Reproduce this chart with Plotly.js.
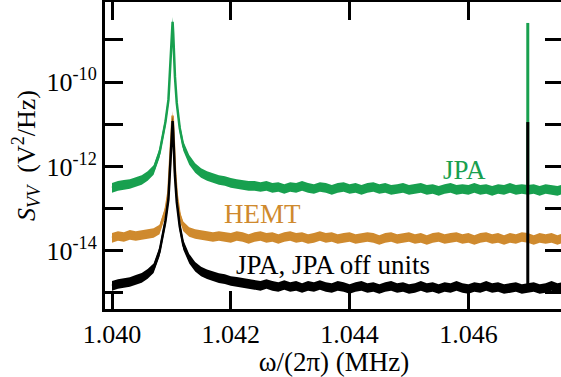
<!DOCTYPE html>
<html>
<head>
<meta charset="utf-8">
<script src="https://cdn.plot.ly/plotly-3.0.1.min.js"></script>
<style>
html,body{margin:0;padding:0;overflow:hidden;background:#fff;}
#chart{width:566px;height:377px;}
</style>
</head>
<body>
<div id="chart"></div>
<script>
// Frequency grid (MHz)
const freq = [
1.0400,1.0401,1.0402,1.0403,1.0404,1.0405,1.0406,1.0407,1.0408,1.0409,
1.04095,1.04098,1.04100,1.04101,1.04102,1.04103,1.04104,1.04106,1.04109,1.04114,
1.0412,1.0413,1.0414,1.0415,1.0416,1.0417,1.0418,1.0419,1.0420,1.0421,
1.0422,1.0423,1.0424,1.0425,1.0426,1.0427,1.0428,1.0429,1.0430,1.0431,
1.0432,1.0433,1.0434,1.0435,1.0436,1.0437,1.0438,1.0439,1.0440,1.0441,
1.0442,1.0443,1.0444,1.0445,1.0446,1.0447,1.0448,1.0449,1.0450,1.0451,
1.0452,1.0453,1.0454,1.0455,1.0456,1.0457,1.0458,1.0459,1.0460,1.0461,
1.0462,1.0463,1.0464,1.0465,1.0466,1.0467,1.0468,1.0469,1.0470,1.0471,
1.0472,1.0473,1.0474,1.0475,1.0476
];

// JPA (green), V^2/Hz
const jpa = [
3.10e-13,3.46e-13,3.65e-13,3.85e-13,4.29e-13,4.79e-13,5.96e-13,8.26e-13,2.09e-12,1.14e-11,
3.78e-11,1.95e-10,5.79e-10,1.47e-9,2.7e-9,1.47e-9,5.79e-10,1.33e-10,3.21e-11,8.19e-12,
3.06e-12,1.43e-12,9.23e-13,7.01e-13,5.96e-13,5.34e-13,4.79e-13,4.53e-13,4.07e-13,3.85e-13,
3.65e-13,3.46e-13,3.46e-13,3.27e-13,3.46e-13,3.10e-13,3.27e-13,2.93e-13,3.27e-13,3.10e-13,
3.46e-13,3.10e-13,2.93e-13,3.27e-13,3.10e-13,2.78e-13,3.10e-13,3.27e-13,2.93e-13,3.10e-13,
2.78e-13,3.10e-13,3.27e-13,2.93e-13,3.10e-13,2.78e-13,2.93e-13,3.10e-13,2.78e-13,2.93e-13,
3.10e-13,2.78e-13,2.93e-13,2.63e-13,2.93e-13,3.10e-13,2.78e-13,2.93e-13,2.78e-13,3.10e-13,
2.78e-13,2.93e-13,2.63e-13,2.93e-13,2.78e-13,3.10e-13,2.78e-13,2.93e-13,2.78e-13,2.93e-13,
2.63e-13,2.93e-13,2.78e-13,2.63e-13,2.93e-13
];

// HEMT (orange), V^2/Hz
const hemt = [
2.02e-14,2.25e-14,2.13e-14,2.38e-14,2.25e-14,2.38e-14,2.51e-14,2.65e-14,3.2e-14,8.8e-14,
2.44e-13,1.15e-12,3.4e-12,8.7e-12,1.6e-11,8.7e-12,3.4e-12,8.1e-13,2.1e-13,6.8e-14,
3.8e-14,2.8e-14,2.51e-14,2.38e-14,2.25e-14,2.13e-14,2.25e-14,2.13e-14,2.02e-14,2.25e-14,
2.13e-14,1.91e-14,2.13e-14,2.25e-14,2.02e-14,2.13e-14,1.91e-14,2.13e-14,2.25e-14,2.02e-14,
2.13e-14,1.91e-14,2.02e-14,2.25e-14,2.02e-14,2.13e-14,1.91e-14,2.02e-14,2.13e-14,1.91e-14,
2.02e-14,2.13e-14,2.02e-14,1.81e-14,2.02e-14,2.13e-14,1.91e-14,2.02e-14,2.13e-14,1.91e-14,
2.02e-14,1.81e-14,2.02e-14,2.13e-14,1.91e-14,2.02e-14,2.13e-14,1.91e-14,2.02e-14,1.81e-14,
2.02e-14,2.13e-14,1.91e-14,2.02e-14,1.81e-14,2.02e-14,1.91e-14,2.13e-14,2.02e-14,1.81e-14,
2.02e-14,1.91e-14,2.02e-14,1.81e-14,2.02e-14
];

// JPA with JPA-off units (black), V^2/Hz
const jpaOff = [
1.47e-15,1.63e-15,1.73e-15,1.82e-15,2.04e-15,2.28e-15,2.84e-15,3.87e-15,9.5e-15,5.1e-14,
1.69e-13,8.7e-13,2.59e-12,6.59e-12,1.2e-11,6.59e-12,2.59e-12,5.96e-13,1.44e-13,3.8e-14,
1.38e-14,6.5e-15,4.2e-15,3.24e-15,2.77e-15,2.5e-15,2.25e-15,2.13e-15,1.92e-15,1.83e-15,
1.74e-15,1.65e-15,1.55e-15,1.47e-15,1.63e-15,1.47e-15,1.39e-15,1.55e-15,1.39e-15,1.47e-15,
1.31e-15,1.47e-15,1.39e-15,1.55e-15,1.39e-15,1.31e-15,1.47e-15,1.39e-15,1.24e-15,1.39e-15,
1.47e-15,1.31e-15,1.39e-15,1.24e-15,1.39e-15,1.47e-15,1.31e-15,1.39e-15,1.24e-15,1.31e-15,
1.47e-15,1.31e-15,1.39e-15,1.24e-15,1.39e-15,1.31e-15,1.47e-15,1.31e-15,1.24e-15,1.39e-15,
1.31e-15,1.47e-15,1.31e-15,1.39e-15,1.24e-15,1.31e-15,1.39e-15,1.24e-15,1.31e-15,1.39e-15,
1.24e-15,1.31e-15,1.47e-15,1.31e-15,1.39e-15
];

// Narrow spike near 1.0470 MHz
const spikeFreq = [1.0470, 1.0470];
const jpaSpike = [2.78e-13, 2.53e-9];
const jpaOffSpike = [1.31e-15, 1.13e-11];

// Axis ticks
const xTickVals = [1.040, 1.042, 1.044, 1.046];
const xTickText = ["1.040", "1.042", "1.044", "1.046"];
const yTickVals = [1e-15, 1e-14, 1e-13, 1e-12, 1e-11, 1e-10, 1e-9];
const yTickText = ["", "10<sup>-14</sup>", "", "10<sup>-12</sup>", "", "10<sup>-10</sup>", ""];

const GREEN = "#18a04f";
const ORANGE = "#cf8a2e";
const BLACK = "#000000";
const FONT = "'Liberation Serif', 'Times New Roman', serif";
const BAND = 1.3;   // visual half-thickness of the noise band (multiplicative, log axis)

function band(y, color) {
  return [
    {x: freq, y: y.map(v => v * BAND), mode: "lines", line: {width: 0, color: color}},
    {x: freq, y: y.map(v => v / BAND), mode: "lines", line: {width: 0, color: color},
     fill: "tonexty", fillcolor: color},
    {x: freq, y: y, mode: "lines", line: {color: color, width: 2.5}}
  ];
}

const traces = [].concat(
  band(jpa, GREEN),
  [{x: spikeFreq, y: jpaSpike, mode: "lines", line: {color: GREEN, width: 3}}],
  band(hemt, ORANGE),
  band(jpaOff, BLACK),
  [{x: spikeFreq, y: jpaOffSpike, mode: "lines", line: {color: BLACK, width: 3}}]
);

const layout = {
  width: 566, height: 377,
  margin: {l: 105, r: 3, t: 2, b: 68},
  paper_bgcolor: "#fff", plot_bgcolor: "#fff",
  showlegend: false,
  font: {family: FONT, size: 26, color: "#000"},
  xaxis: {
    range: [1.039882, 1.047593],
    tickvals: xTickVals, ticktext: xTickText,
    ticks: "inside", ticklen: 18, tickwidth: 3, tickcolor: "#000",
    showline: true, linewidth: 3, linecolor: "#000", mirror: "ticks",
    showgrid: false, zeroline: false,
    tickfont: {family: FONT, size: 26},
    title: {text: "ω/(2π) (MHz)", font: {family: FONT, size: 27}, standoff: 2}
  },
  yaxis: {
    type: "log",
    range: [-15.38, -8.10],
    tickvals: yTickVals, ticktext: yTickText,
    ticks: "inside", ticklen: 18, tickwidth: 3, tickcolor: "#000",
    showline: true, linewidth: 3, linecolor: "#000", mirror: "ticks",
    showgrid: false, zeroline: false,
    tickfont: {family: FONT, size: 26},
    title: {text: "<i>S</i><sub><i>VV</i></sub>  (V<sup>2</sup>/Hz)", font: {family: FONT, size: 26}, standoff: 4}
  },
  annotations: [
    {xref: "paper", yref: "paper", x: 0.786, y: 0.453, xanchor: "center", yanchor: "middle",
     text: "JPA", showarrow: false, font: {family: FONT, size: 27, color: GREEN}},
    {xref: "paper", yref: "paper", x: 0.343, y: 0.309, xanchor: "center", yanchor: "middle",
     text: "HEMT", showarrow: false, font: {family: FONT, size: 27, color: ORANGE}},
    {xref: "paper", yref: "paper", x: 0.498, y: 0.143, xanchor: "center", yanchor: "middle",
     text: "JPA, JPA off units", showarrow: false, font: {family: FONT, size: 27, color: BLACK}}
  ]
};

Plotly.newPlot("chart", traces, layout, {staticPlot: true, displayModeBar: false});
</script>
</body>
</html>
